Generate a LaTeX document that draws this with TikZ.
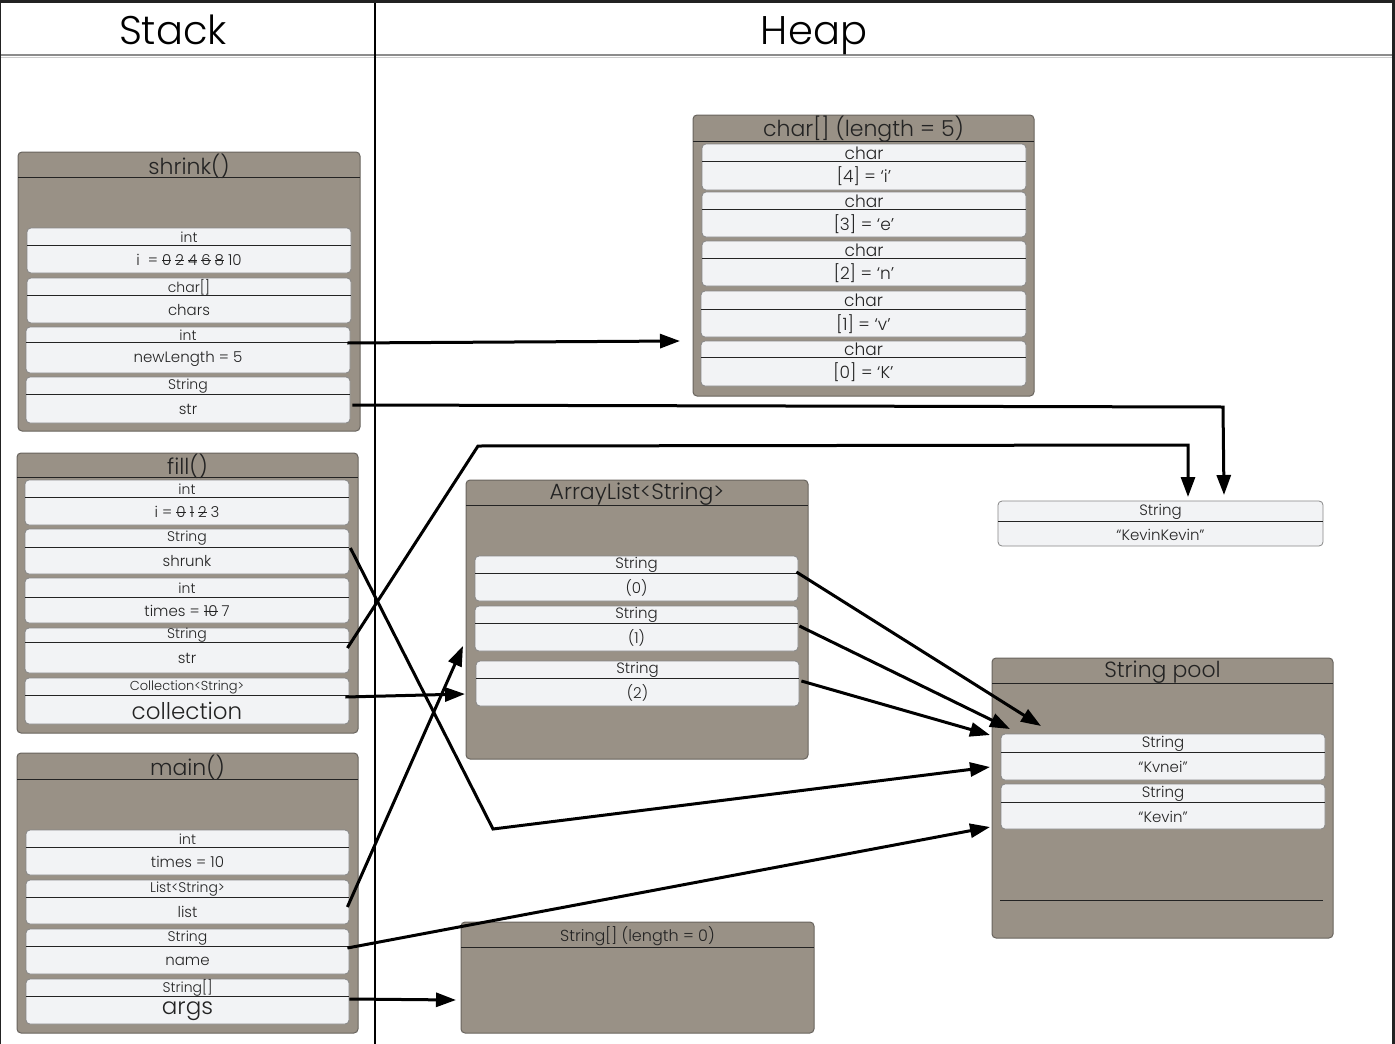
\documentclass[tikz,border=0pt]{standalone}
\usepackage{fontspec}
\setmainfont{Poppins Light}
\usetikzlibrary{arrows.meta,calc}

\definecolor{framefill}{RGB}{153,145,134}
\definecolor{frameedge}{RGB}{105,100,94}
\definecolor{slotfill}{RGB}{242,243,245}
\definecolor{slotedge}{RGB}{135,135,135}
\definecolor{inkc}{RGB}{35,35,35}
\definecolor{rulegray}{RGB}{140,140,140}
\definecolor{edgedark}{RGB}{34,34,34}

% struck-out (overwritten) value
\newcommand\strk[1]{\setbox0=\hbox{#1}\rlap{\rule[0.3em]{\wd0}{0.7pt}}\box0}
\newcommand\fsz[1]{\fontsize{#1}{#1}\selectfont}
\newcommand\gap{\hspace{4pt}}

\tikzset{
  frame/.style={draw=frameedge, fill=framefill, rounded corners=4pt, line width=1pt, inner sep=0pt},
  slotbox/.style={draw=slotedge, fill=slotfill, rounded corners=4pt, line width=0.8pt, inner sep=0pt},
  divline/.style={draw=inkc, line width=0.8pt},
  titletxt/.style={inner sep=0pt, text=inkc, font=\fsz{22}},
  typetxt/.style={inner sep=0pt, text=inkc, font=\fsz{14}},
  valtxt/.style={inner sep=0pt, text=inkc, font=\fsz{15}},
  headtxt/.style={inner sep=0pt, anchor=base, text=black, font=\fsz{40}},
  ref/.style={line width=3pt, draw=black, -{Triangle[length=20pt,width=14pt]}},
}

% frame: name, x1, y1, x2, y2, title rule y, title
\newcommand\memframe[7]{%
  \node[frame, minimum width={#4-#2}, minimum height={#5-#3}] (#1) at ({(#2+#4)/2},{(#3+#5)/2}) {};
  \draw[divline] (#2,#6) -- (#4,#6);
  \node[titletxt] (#1-title) at ({(#2+#4)/2},{(#3+#6)/2+1.5}) {#7};
}
% slot: name, x1, y1, divider y, x2, y2, type, value
\newcommand\memslot[8]{%
  \node[slotbox, minimum width={#5-#2}, minimum height={#6-#3}] (#1) at ({(#2+#5)/2},{(#3+#6)/2}) {};
  \draw[divline] (#2,#4) -- (#5,#4);
  \node[typetxt] (#1-t) at ({(#2+#5)/2},{(#3+#4)/2+0.5}) {#7};
  \node[valtxt] (#1-v) at ({(#2+#5)/2},{(#4+#6)/2+1}) {#8};
}

\begin{document}
\begin{tikzpicture}[x=1pt, y=-1pt]
\useasboundingbox (0,0) rectangle (1395,1044);
\fill[white] (0,0) rectangle (1395,1044);

% page edges
\fill[edgedark] (0,0) rectangle (1395,3);
\fill[edgedark] (1392,0) rectangle (1395,1044);
\fill[edgedark] (0,0) rectangle (1,1044);

% column headers
\draw[rulegray, line width=1.5pt] (1,55) -- (1392,55);
\draw[black!20, line width=1pt] (1,57) -- (1392,57);
\draw[black, line width=2pt] (375,3) -- (375,1044);
\node[headtxt] (stackhead) at (173,44) {Stack};
\node[headtxt] (heaphead) at (814,44) {Heap};

% ---------- stack frames ----------
\memframe{sh}{18}{152}{360}{431}{177}{shrink()}
\memslot{sh-i}{27}{228}{245}{351}{273}{int}{i\ \ = \strk{0}\gap\strk{2}\gap\strk{4}\gap\strk{6}\gap\strk{8}\gap10}
\memslot{sh-chars}{27}{278}{295}{351}{323}{char[]}{chars}
\memslot{sh-len}{26}{327}{342}{350}{373}{int}{newLength = 5}
\memslot{sh-str}{26}{377}{394}{350}{423}{String}{str}

\memframe{fi}{17}{453}{358}{733}{477}{fill()}
\memslot{fi-i}{25}{480}{497}{349}{525}{int}{i = \strk{0}\gap\strk{1}\gap\strk{2}\gap3}
\memslot{fi-shrunk}{25}{529}{547}{349}{574}{String}{shrunk}
\memslot{fi-times}{25}{578}{597}{349}{623}{int}{times = \strk{10}\gap7}
\memslot{fi-str}{25}{628}{642}{349}{673}{String}{str}
\memslot{fi-coll}{25}{678}{695}{349}{724}{\fsz{13}Collection<String>}{\fsz{23}collection}

\memframe{mn}{17}{753}{358}{1033}{779}{main()}
\memslot{mn-times}{26}{830}{847}{349}{875}{int}{times = 10}
\memslot{mn-list}{26}{880}{897}{349}{924}{List<String>}{list}
\memslot{mn-name}{26}{929}{946}{349}{974}{String}{name}
\memslot{mn-args}{26}{979}{996}{349}{1024}{String[]}{\fsz{23}args}

% ---------- heap objects ----------
\memframe{ch}{693}{115}{1034}{396}{141}{char[] (length = 5)}
\begin{scope}[typetxt/.append style={font=\fsz{17}}, valtxt/.append style={font=\fsz{17}}]
\memslot{ch-4}{702}{144}{161}{1026}{190}{char}{[4] = ‘i’}
\memslot{ch-3}{702}{192}{209}{1026}{237}{char}{[3] = ‘e’}
\memslot{ch-2}{702}{241}{258}{1026}{286}{char}{[2] = ‘n’}
\memslot{ch-1}{701}{291}{309}{1026}{337}{char}{[1] = ‘v’}
\memslot{ch-0}{701}{341}{357}{1026}{386}{char}{[0] = ‘K’}
\end{scope}

\memframe{al}{466}{480}{808}{759}{505}{ArrayList<String>}
\begin{scope}[typetxt/.append style={font=\fsz{15}}]
\memslot{al-0}{475}{556}{573}{798}{601}{String}{(0)}
\memslot{al-1}{475}{606}{623}{798}{651}{String}{(1)}
\memslot{al-2}{476}{661}{678}{799}{706}{String}{(2)}
\end{scope}

\memframe{sp}{992}{658}{1333}{938}{683}{String pool}
\draw[divline] (1000,900) -- (1323,900);
\begin{scope}[typetxt/.append style={font=\fsz{15}}]
\memslot{sp-kvnei}{1001}{734}{752}{1325}{780}{String}{“Kvnei”}
\memslot{sp-kevin}{1001}{784}{802}{1325}{829}{String}{“Kevin”}
\memslot{kk}{998}{501}{521}{1323}{546}{String}{“KevinKevin”}
\end{scope}

\begin{scope}[titletxt/.append style={font=\fsz{16}}]
\memframe{sa}{461}{922}{814}{1033}{947}{String[] (length = 0)}
\end{scope}

% ---------- references ----------
\coordinate (tip-ch) at (680,341);
\coordinate (bend-a) at (1223,407);
\coordinate (tip-kk-a) at (1224,495);
\coordinate (bend-b1) at (478,446);
\coordinate (bend-b2) at (1188,445);
\coordinate (tip-kk-b) at (1188,497);
\coordinate (bend-c) at (493,829);
\coordinate (tip-kvnei-c) at (990,767);
\coordinate (tip-al-coll) at (465,694);
\coordinate (tip-al-list) at (463,646);
\coordinate (tip-kevin) at (990,827);
\coordinate (tip-sa) at (456,1000);
\coordinate (tip-kvnei-0) at (1041,726);
\coordinate (tip-kvnei-1) at (1010,729);
\coordinate (tip-kvnei-2) at (990,735);

\draw[ref] ([xshift=-3pt,yshift=7pt]sh-len.east) -- (tip-ch);
\draw[ref] ([xshift=2pt,yshift=-5pt]sh-str.east) -- (bend-a) -- (tip-kk-a);
\draw[ref] ([xshift=-2pt,yshift=2.5pt]fi-str.east) -- (bend-b1) -- (bend-b2) -- (tip-kk-b);
\draw[ref] ([xshift=1pt,yshift=3.5pt]fi-shrunk.east) -- (bend-c) -- (tip-kvnei-c);
\draw[ref] ([xshift=-4pt,yshift=4pt]fi-coll.east) -- (tip-al-coll);
\draw[ref] ([xshift=-2pt,yshift=-5pt]mn-list.east) -- (tip-al-list);
\draw[ref] ([xshift=-2pt,yshift=3.5pt]mn-name.east) -- (tip-kevin);
\draw[ref] ([yshift=2.5pt]mn-args.east) -- (tip-sa);
\draw[ref] ([xshift=-2pt,yshift=6.5pt]al-0.east) -- (tip-kvnei-0);
\draw[ref] ([xshift=1pt,yshift=2.5pt]al-1.east) -- (tip-kvnei-1);
\draw[ref] ([xshift=2pt,yshift=2.5pt]al-2.east) -- (tip-kvnei-2);
\end{tikzpicture}
\end{document}
